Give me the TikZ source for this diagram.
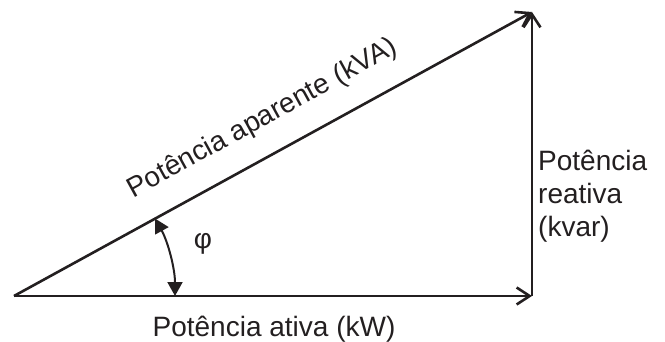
\documentclass[tikz,border=0pt]{standalone}
\usepackage{fontspec}
\setmainfont{Liberation Sans}
\usetikzlibrary{arrows.meta,calc}
\definecolor{ink}{HTML}{231F20}
\begin{document}
\begin{tikzpicture}[x=1pt,y=1pt,
  vec/.style={draw=ink, line width=2.6pt, -{Straight Barb[length=13pt,width=17pt,line width=2.6pt]}},
  ang/.style={draw=ink, line width=2pt, {Triangle[length=14pt,width=15pt]}-{Triangle[length=14pt,width=15pt]}},
  lbl/.style={font=\fontsize{28}{33}\selectfont, text=ink, inner sep=0pt}]
\useasboundingbox (0,0) rectangle (665,341);
\coordinate (O) at (14,45);
\coordinate (R) at (532,45);
\coordinate (T) at (532,329);
\draw[vec] (O) -- (T);
\draw[vec] (O) -- (R);
\draw[vec] (R) -- (T);
\coordinate (A1) at ($(O)+(161,0)$);
\draw[ang] (A1) arc[start angle=0, end angle=28.74, radius=161];
\coordinate (M) at ($(O)!0.513!(T)$);
\coordinate (B) at ($(M)!28.5pt!90:(T)$);
\node[lbl, rotate=28.74, anchor=base] (hyp) at (B) {Potência aparente (kVA)};
\node[lbl, anchor=base] (bot) at (274,5) {Potência ativa (kW)};
\node[lbl, anchor=base west, align=left] (right) at (538,105) {Potência\\reativa\\(kvar)};
\node[lbl] (phi) at (203,97) {φ};
\end{tikzpicture}
\end{document}
